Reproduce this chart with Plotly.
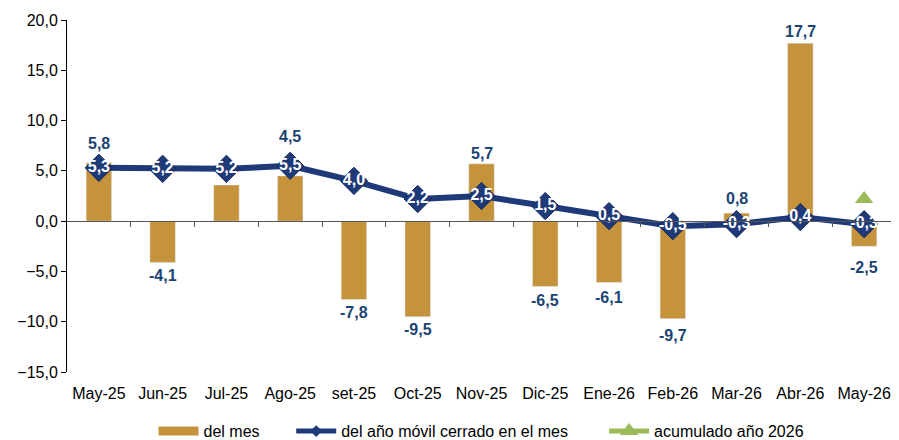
import plotly.graph_objects as go

categories = ["May-25", "Jun-25", "Jul-25", "Ago-25", "set-25", "Oct-25", "Nov-25",
              "Dic-25", "Ene-26", "Feb-26", "Mar-26", "Abr-26", "May-26"]
del_mes = [5.8, -4.1, 3.6, 4.5, -7.8, -9.5, 5.7, -6.5, -6.1, -9.7, 0.8, 17.7, -2.5]
anio_movil = [5.3, 5.2, 5.2, 5.5, 4.0, 2.2, 2.5, 1.5, 0.5, -0.5, -0.3, 0.4, -0.3]
acum_cat = ["May-26"]
acum_2026 = [2.2]
y_ticks = [-15, -10, -5, 0, 5, 10, 15, 20]

# style: label offsets (px) of bar labels away from bar end; None = label hidden
label_shift = [19, 13, None, 39, 13, 13, 10, 14, 15, 17, 15, 12, 21]

GOLD = "#C4933B"
NAVY = "#1F3A78"
LABEL = "#1B4472"
GREEN = "#9BBB59"
FONT = "Liberation Sans, Arial, sans-serif"
PAD = "\u00a0"

def fmt(v):
    return f"{v:.1f}".replace(".", ",")

fig = go.Figure()

fig.add_trace(go.Bar(
    x=categories, y=del_mes, marker_color=GOLD, width=0.4,
    showlegend=False, hoverinfo="x+y",
))

# legend proxy for bars (wide swatch)
fig.add_trace(go.Scatter(
    x=[categories[0]], y=[None], mode="lines", name="del mes" + PAD * 6,
    line=dict(color=GOLD, width=9),
))

fig.add_trace(go.Scatter(
    x=categories, y=anio_movil, mode="lines+markers+text",
    name="del año móvil cerrado en el mes", showlegend=False,
    line=dict(color=NAVY, width=6),
    marker=dict(symbol="diamond", size=21, color=NAVY, line=dict(color="#15275A", width=1)),
    text=[fmt(v) for v in anio_movil], textposition="middle center",
    textfont=dict(color="white", size=16, family=FONT, weight="bold"),
    cliponaxis=False,
))

# legend proxy for the line (small diamond)
fig.add_trace(go.Scatter(
    x=[categories[0]], y=[None], mode="lines+markers",
    name="del año móvil cerrado en el mes" + PAD * 7,
    line=dict(color=NAVY, width=5),
    marker=dict(symbol="diamond", size=9, color=NAVY),
))

fig.add_trace(go.Scatter(
    x=acum_cat, y=acum_2026, mode="lines+markers",
    name="acumulado año 2026",
    line=dict(color=GREEN, width=5),
    marker=dict(symbol="triangle-up", size=16, color=GREEN),
    cliponaxis=False,
))

# invisible trace for the zero-line tick axis
fig.add_trace(go.Scatter(
    x=list(range(len(categories))), y=anio_movil, xaxis="x2", mode="markers",
    marker=dict(opacity=0), showlegend=False, hoverinfo="skip",
))

annotations = []
for c, v, s in zip(categories, del_mes, label_shift):
    if s is None:
        continue
    annotations.append(dict(
        x=c, y=v, xref="x", yref="y", text=f"<b>{fmt(v)}</b>", showarrow=False,
        yshift=s if v >= 0 else -s,
        font=dict(color=LABEL, size=16, family=FONT),
    ))

# the page body adds an 8px offset; figure size/margins compensate for it
y0, y1 = -15, 20
fig.update_layout(
    width=891, height=432,
    margin=dict(l=59, r=3, t=12, b=68, autoexpand=False),
    plot_bgcolor="white", paper_bgcolor="white",
    separators=",.",
    font=dict(family=FONT, size=16, color="#000000"),
    annotations=annotations,
    xaxis=dict(
        type="category", categoryarray=categories, showline=False, ticks="",
        showgrid=False, zeroline=False, tickfont=dict(size=16, color="#000000"),
        range=[-0.5, len(categories) - 0.5], automargin=False,
        ticklabelstandoff=10,
    ),
    xaxis2=dict(
        overlaying="x", anchor="free", position=(0 - y0) / (y1 - y0),
        range=[-0.5, len(categories) - 0.5], showticklabels=False,
        tickmode="array", tickvals=[i + 0.5 for i in range(len(categories) - 1)],
        ticks="outside", ticklen=5, tickcolor="#555555", showgrid=False,
        zeroline=False, showline=True, linecolor="#555555", linewidth=1,
        automargin=False,
    ),
    yaxis=dict(
        range=[y0, y1], tickmode="array", tickvals=y_ticks, tickformat=".1f",
        showline=True, linecolor="#000000", linewidth=1, ticks="outside",
        ticklen=5, tickcolor="#000000", showgrid=False, zeroline=False,
        tickfont=dict(size=16, color="#000000"), automargin=False,
    ),
    legend=dict(
        orientation="h", x=0.5, xanchor="center", y=-0.168, yanchor="middle",
        font=dict(size=16, color="#000000"), itemwidth=40,
    ),
)

fig.write_html("out.html")
